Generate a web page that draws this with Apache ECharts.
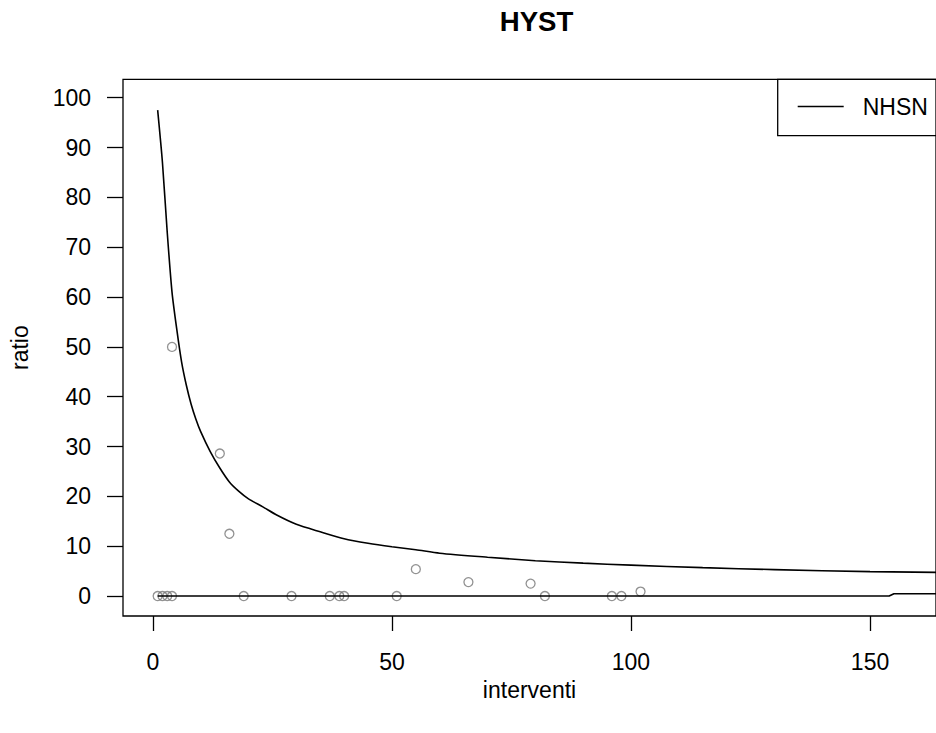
<!DOCTYPE html>
<html>
<head>
<meta charset="utf-8">
<script src="https://cdn.jsdelivr.net/npm/echarts@6/dist/echarts.min.js"></script>
<style>
html,body{margin:0;padding:0;background:#fff;}
#chart{width:936px;height:733px;}
</style>
</head>
<body>
<div id="chart"></div>
<script>
// Upper reference curve (NHSN)
const nhsnX = [1, 2, 3, 4, 5, 6, 7, 8, 9, 10, 12, 14, 16, 18, 20, 23, 26, 30, 35, 40, 45, 50, 55, 60, 70, 80, 90, 100, 115, 130, 150, 170];
const nhsnY = [97.5, 87, 73, 61, 53.5, 47, 42.3, 38.5, 35.5, 33, 29, 25.7, 22.9, 21, 19.5, 17.9, 16.2, 14.4, 12.9, 11.5, 10.6, 9.9, 9.3, 8.6, 7.8, 7.1, 6.6, 6.2, 5.7, 5.3, 4.9, 4.7];
// Lower reference line
const lowerX = [1, 154, 155, 170];
const lowerY = [0, 0, 0.45, 0.45];
// Observed ratios
const pointX = [1, 2, 3, 4, 4, 14, 16, 19, 29, 37, 39, 40, 51, 55, 66, 79, 82, 96, 98, 102];
const pointY = [0, 0, 0, 0, 50, 28.6, 12.5, 0, 0, 0, 0, 0, 0, 5.4, 2.8, 2.5, 0, 0, 0, 0.9];
// Tick labels
const xTicks = [0, 50, 100, 150];
const yTicks = [0, 10, 20, 30, 40, 50, 60, 70, 80, 90, 100];

const zip = (a, b) => a.map((v, i) => [v, b[i]]);
const FONT = 'Liberation Sans, Arial, sans-serif';

const chart = echarts.init(document.getElementById('chart'), null, {renderer: 'svg'});
chart.setOption({
  animation: false,
  backgroundColor: '#ffffff',
  title: {
    text: 'HYST',
    left: 531.5,
    textAlign: 'center',
    top: 2,
    textStyle: {fontFamily: FONT, fontSize: 27.6, fontWeight: 'bold', color: '#000'}
  },
  legend: {
    data: ['NHSN'],
    left: 797.7,
    top: 95,
    itemWidth: 46,
    itemHeight: 1.5,
    icon: 'rect',
    padding: 0,
    itemStyle: {color: '#000'},
    textStyle: {fontFamily: FONT, fontSize: 23, color: '#000', padding: [0, 0, 0, 14]}
  },
  graphic: [{
    type: 'rect',
    shape: {x: 777.7, y: 79.3, width: 300, height: 56.4},
    style: {fill: 'none', stroke: '#000', lineWidth: 1.3},
    z: 100
  }],
  grid: {
    left: 122.3, top: 79.3, right: -3, bottom: 117,
    show: true, borderColor: '#000', borderWidth: 1.3, backgroundColor: 'transparent'
  },
  xAxis: {
    type: 'value',
    min: -6.25, max: 163.8,
    name: 'interventi',
    nameLocation: 'middle',
    nameGap: 62,
    nameTextStyle: {fontFamily: FONT, fontSize: 23, color: '#000'},
    axisLine: {show: false, onZero: false},
    splitLine: {show: false},
    axisTick: {show: true, inside: false, length: 15, customValues: xTicks, lineStyle: {color: '#000', width: 1.3}},
    axisLabel: {customValues: xTicks, margin: 34, fontFamily: FONT, fontSize: 23, color: '#000'}
  },
  yAxis: {
    type: 'value',
    min: -4.0, max: 103.69,
    name: 'ratio',
    nameLocation: 'middle',
    nameGap: 92,
    nameTextStyle: {fontFamily: FONT, fontSize: 23, color: '#000'},
    axisLine: {show: false, onZero: false},
    splitLine: {show: false},
    axisTick: {show: true, inside: false, length: 16, customValues: yTicks, lineStyle: {color: '#000', width: 1.3}},
    axisLabel: {customValues: yTicks, margin: 32, fontFamily: FONT, fontSize: 23, color: '#000'}
  },
  series: [
    {
      name: 'ratio',
      type: 'scatter',
      data: zip(pointX, pointY),
      symbol: 'circle',
      symbolSize: 9,
      itemStyle: {color: 'transparent', borderColor: '#777', borderWidth: 1.3},
      z: 2
    },
    {
      name: 'NHSN',
      type: 'line',
      data: zip(nhsnX, nhsnY),
      showSymbol: false,
      symbol: 'none',
      smooth: 0.25,
      clip: true,
      lineStyle: {color: '#000', width: 1.6},
      itemStyle: {color: '#000'},
      z: 3
    },
    {
      name: 'lower',
      type: 'line',
      data: zip(lowerX, lowerY),
      showSymbol: false,
      symbol: 'none',
      clip: true,
      lineStyle: {color: '#000', width: 1.6},
      z: 3
    }
  ]
});
</script>
</body>
</html>
